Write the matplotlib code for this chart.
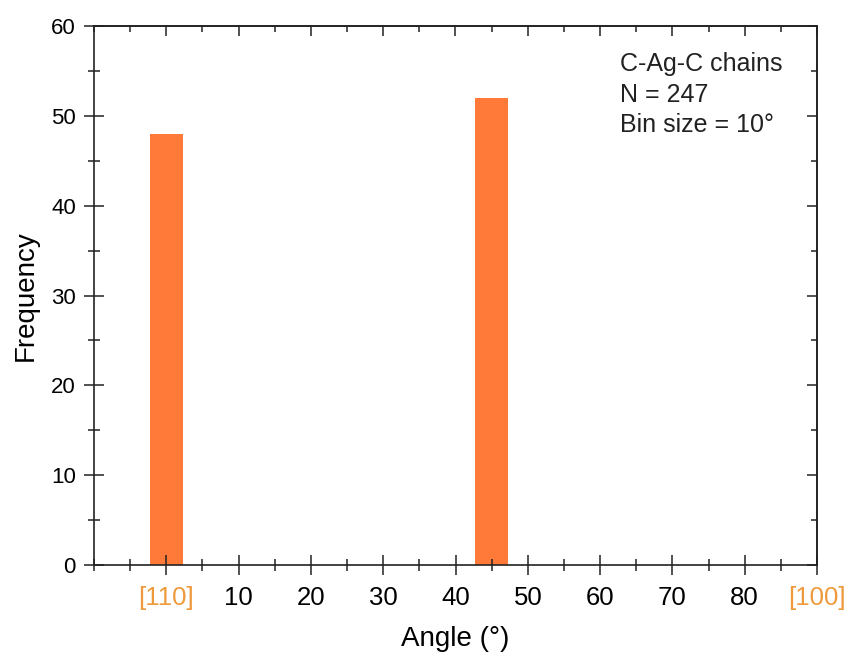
import matplotlib
matplotlib.use("Agg")
import matplotlib.pyplot as plt
from matplotlib.ticker import MultipleLocator

plt.rcParams['font.family'] = ['Liberation Sans', 'DejaVu Sans']

# Histogram of C-Ag-C chain orientations
angles = [0, 45]
frequency = [48, 52]
bar_width = 4.5

tick_positions = [0, 10, 20, 30, 40, 50, 60, 70, 80, 90]
tick_labels = ['[110]', '10', '20', '30', '40', '50', '60', '70', '80', '[100]']
y_ticks = [0, 10, 20, 30, 40, 50, 60]

info_lines = ['C-Ag-C chains', 'N = 247', 'Bin size = 10°']

bar_color = '#FF7A38'
dir_color = '#EE9A3C'
axis_color = '#222222'

fig = plt.figure(figsize=(8.5, 6.56), dpi=100)
ax = fig.add_axes([94 / 850, 91 / 656, (817 - 94) / 850, (565 - 26) / 656])

ax.bar(angles, frequency, width=bar_width, color=bar_color, zorder=1)

ax.set_xlim(-10, 90)
ax.set_ylim(0, 60)

ax.set_xticks(tick_positions)
ax.set_xticklabels(tick_labels)
ax.set_yticks(y_ticks)
ax.xaxis.set_minor_locator(MultipleLocator(5))
ax.yaxis.set_minor_locator(MultipleLocator(5))

for lbl in ax.get_xticklabels():
    if lbl.get_text().startswith('['):
        lbl.set_color(dir_color)

ax.tick_params(axis='both', which='major', direction='inout', length=14,
               width=1.1, color=axis_color, top=False, right=False)
ax.tick_params(axis='both', which='minor', direction='inout', length=8,
               width=1.1, color=axis_color, top=False, right=False)
ax.tick_params(axis='x', which='major', labelsize=18.5, pad=8)
ax.tick_params(axis='y', which='major', labelsize=16, pad=6)

for sp in ax.spines.values():
    sp.set_linewidth(1.2)
    sp.set_color(axis_color)

# inward ticks on the top and right frame
top = ax.secondary_xaxis('top')
top.set_xticks(tick_positions)
top.xaxis.set_minor_locator(MultipleLocator(5))
top.tick_params(which='major', direction='in', length=7, width=1.1,
                color=axis_color, labeltop=False)
top.tick_params(which='minor', direction='in', length=4.5, width=1.1,
                color=axis_color)
top.spines['top'].set_linewidth(1.2)
top.spines['top'].set_color(axis_color)

right = ax.secondary_yaxis('right')
right.set_yticks(y_ticks)
right.yaxis.set_minor_locator(MultipleLocator(5))
right.tick_params(which='major', direction='in', length=7, width=1.1,
                  color=axis_color, labelright=False)
right.tick_params(which='minor', direction='in', length=4.5, width=1.1,
                  color=axis_color)
right.spines['right'].set_linewidth(1.2)
right.spines['right'].set_color(axis_color)

ax.set_xlabel('Angle (°)', fontsize=20, labelpad=12)
ax.set_ylabel('Frequency', fontsize=20, labelpad=9)

ax.text(0.727, 0.952, '\n'.join(info_lines), transform=ax.transAxes,
        fontsize=18, va='top', ha='left', linespacing=1.35, color='#222222')

fig.savefig('out.png', dpi=100)
